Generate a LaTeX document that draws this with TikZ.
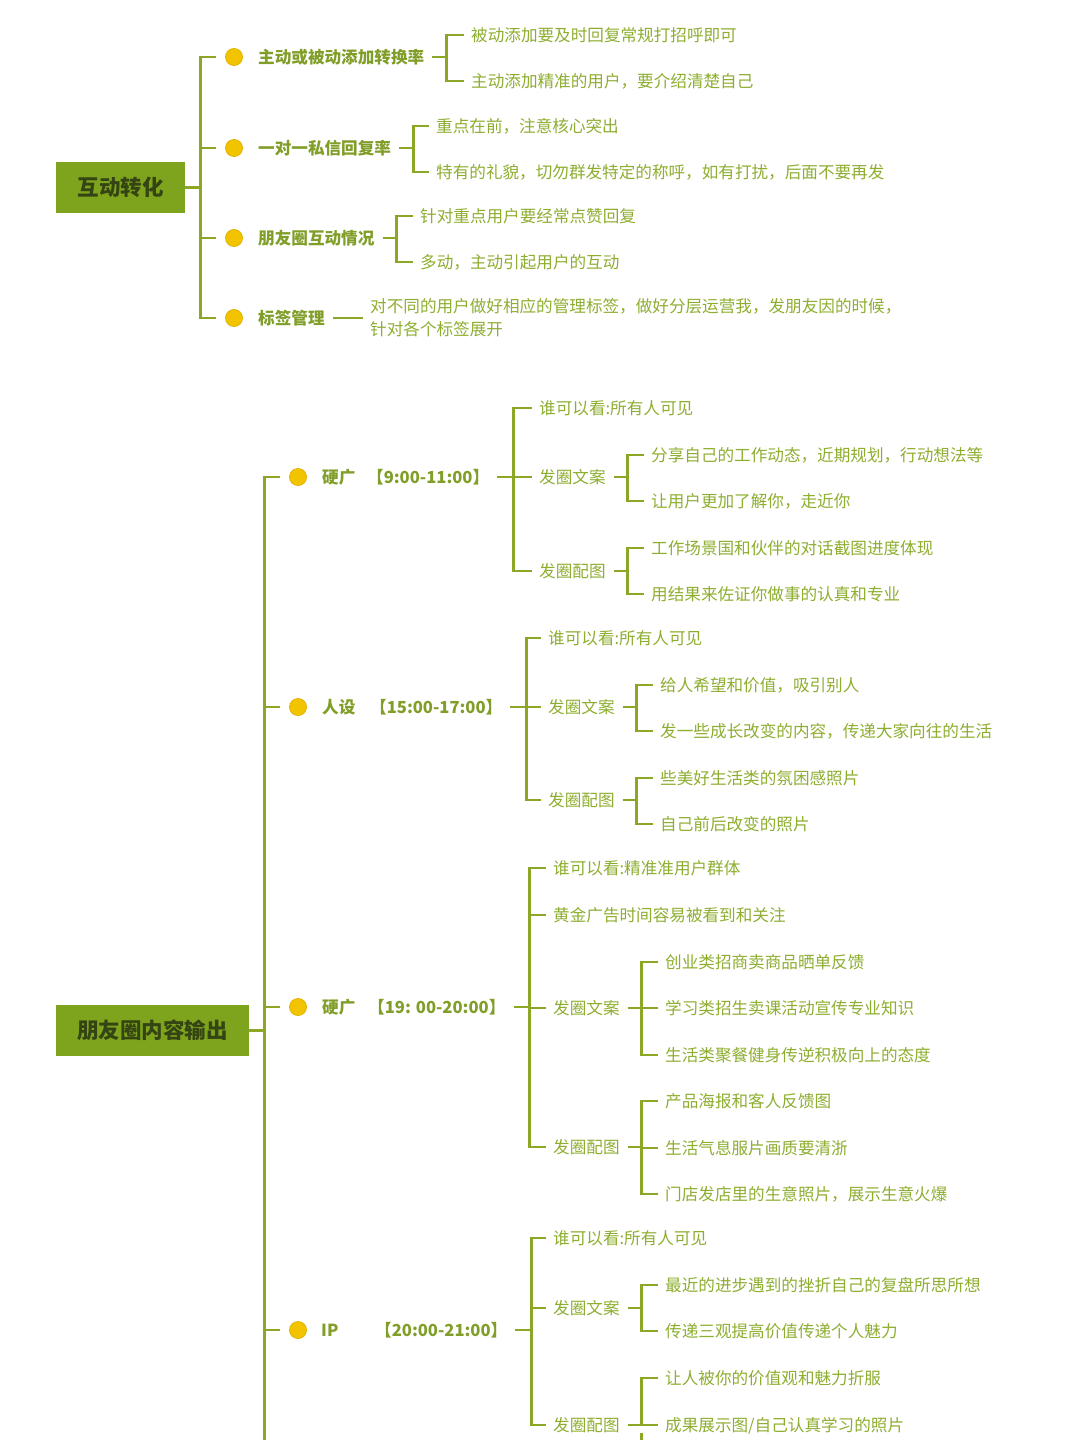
\documentclass[tikz,border=0pt]{standalone}
\usepackage{fontspec}
\setmainfont{Noto Sans CJK SC}
\usepackage{xcolor}
\usepackage{tikz}
\definecolor{linegreen}{RGB}{140,166,38}
\definecolor{boxgreen}{RGB}{126,164,30}
\definecolor{boxtext}{RGB}{52,68,18}
\definecolor{labelgreen}{RGB}{128,158,40}
\definecolor{leafgreen}{RGB}{142,174,48}
\definecolor{dotyellow}{RGB}{242,196,0}
\definecolor{dotedge}{RGB}{226,180,0}

\tikzset{
  topicbox/.style={fill=boxgreen, text=boxtext, inner sep=0pt, minimum height=51pt,
    font=\fontsize{21.5}{24}\selectfont\bfseries},
  bullet/.style={circle, fill=dotyellow, draw=dotedge, line width=0.8pt, minimum size=17pt, inner sep=0pt},
  branch/.style={anchor=west, inner sep=0pt, text=labelgreen, text height=14.6pt, text depth=2pt,
    font=\fontsize{16.6}{20}\selectfont\bfseries},
  leaf/.style={anchor=west, inner sep=0pt, text=leafgreen, text height=14.6pt, text depth=2pt,
    font=\fontsize{16.6}{20}\selectfont},
  link/.style={draw=linegreen, line width=2.8pt, shorten <=8pt, shorten >=7pt},
  trunk/.style={draw=linegreen, line width=2.8pt, shorten >=9pt},
}

\begin{document}
\begin{tikzpicture}[x=1pt,y=-1pt]
  \useasboundingbox (0,0) rectangle (1080,1440);
  \clip (0,0) rectangle (1080,1440);
  \fill[white] (0,0) rectangle (1080,1440);

  % ---- 互动转化 ----
  \node[topicbox, minimum width=129pt] (interact) at (120.5,187.5) {互动转化};

  \node[bullet] (d11) at (234,57) {};
  \node[bullet] (d12) at (234,148) {};
  \node[bullet] (d13) at (234,238) {};
  \node[bullet] (d14) at (234,318) {};

  \node[branch] (a1) at (258,57) {主动或被动添加转换率};
  \node[branch] (a2) at (258,148) {一对一私信回复率};
  \node[branch] (a3) at (258,238) {朋友圈互动情况};
  \node[branch] (a4) at (258,318) {标签管理};

  \node[leaf] (a11) at (471,35) {被动添加要及时回复常规打招呼即可};
  \node[leaf] (a12) at (471,81) {主动添加精准的用户，要介绍清楚自己};
  \node[leaf] (a21) at (436,126) {重点在前，注意核心突出};
  \node[leaf] (a22) at (436,172) {特有的礼貌，切勿群发特定的称呼，如有打扰，后面不要再发};
  \node[leaf] (a31) at (420,216) {针对重点用户要经常点赞回复};
  \node[leaf] (a32) at (420,262) {多动，主动引起用户的互动};
  \node[leaf, text height=, text depth=, align=left, font=\fontsize{16.6}{23}\selectfont] (a41) at (370,318)
    {对不同的用户做好相应的管理标签，做好分层运营我，发朋友因的时候，\\针对各个标签展开};

  \draw[trunk] (interact.east) -- ++(15,0) |- (d11.west);
  \draw[trunk] (interact.east) -- ++(15,0) |- (d12.west);
  \draw[trunk] (interact.east) -- ++(15,0) |- (d13.west);
  \draw[trunk] (interact.east) -- ++(15,0) |- (d14.west);

  \draw[link] (a1.east) -- ++(22,0) |- (a11.west);
  \draw[link] (a1.east) -- ++(22,0) |- (a12.west);
  \draw[link] (a2.east) -- ++(22,0) |- (a21.west);
  \draw[link] (a2.east) -- ++(22,0) |- (a22.west);
  \draw[link] (a3.east) -- ++(22,0) |- (a31.west);
  \draw[link] (a3.east) -- ++(22,0) |- (a32.west);
  \draw[link] (a4.east) -- (a41.west);

  % ---- 朋友圈内容输出 ----
  \node[topicbox, minimum width=193pt] (moments) at (152.5,1030.5) {朋友圈内容输出};

  \node[bullet] (d21) at (298,477) {};
  \node[bullet] (d22) at (298,707) {};
  \node[bullet] (d23) at (298,1007) {};
  \node[bullet] (d24) at (298,1330) {};

  \node[branch] (n1) at (322,477) {硬广};
  \node[branch] (n2) at (322,707) {人设};
  \node[branch] (n3) at (322,1007) {硬广};
  \node[branch] (n4) at (321,1330) {IP};
  \node[branch] (t1) at (367,477) {【9:00-11:00】};
  \node[branch] (t2) at (370,707) {【15:00-17:00】};
  \node[branch] (t3) at (368,1007) {【19: 00-20:00】};
  \node[branch] (t4) at (375,1330) {【20:00-21:00】};

  \draw[trunk] (moments.east) -- ++(15,0) |- (d21.west);
  \draw[trunk] (moments.east) -- ++(15,0) |- (d22.west);
  \draw[trunk] (moments.east) -- ++(15,0) |- (d23.west);
  \draw[trunk] (moments.east) -- ++(15,0) |- (d24.west);
  \draw[trunk] (moments.east) ++(15,0) -- ++(0,440);

  % 9:00-11:00
  \node[leaf] (p11) at (539,408) {谁可以看:所有人可见};
  \node[leaf] (p12) at (539,477) {发圈文案};
  \node[leaf] (p13) at (539,571) {发圈配图};
  \node[leaf] (p121) at (651,455) {分享自己的工作动态，近期规划，行动想法等};
  \node[leaf] (p122) at (651,501) {让用户更加了解你，走近你};
  \node[leaf] (p131) at (651,548) {工作场景国和伙伴的对话截图进度体现};
  \node[leaf] (p132) at (651,594) {用结果来佐证你做事的认真和专业};

  \draw[link] (t1.east) -- ++(24,0) |- (p11.west);
  \draw[link] (t1.east) -- ++(24,0) |- (p12.west);
  \draw[link] (t1.east) -- ++(24,0) |- (p13.west);
  \draw[link] (p12.east) -- ++(22,0) |- (p121.west);
  \draw[link] (p12.east) -- ++(22,0) |- (p122.west);
  \draw[link] (p13.east) -- ++(22,0) |- (p131.west);
  \draw[link] (p13.east) -- ++(22,0) |- (p132.west);

  % 15:00-17:00
  \node[leaf] (q21) at (548,638) {谁可以看:所有人可见};
  \node[leaf] (q22) at (548,707) {发圈文案};
  \node[leaf] (q23) at (548,800) {发圈配图};
  \node[leaf] (q221) at (660,685) {给人希望和价值，吸引别人};
  \node[leaf] (q222) at (660,731) {发一些成长改变的内容，传递大家向往的生活};
  \node[leaf] (q231) at (660,778) {些美好生活类的氛困感照片};
  \node[leaf] (q232) at (660,824) {自己前后改变的照片};

  \draw[link] (t2.east) -- ++(24,0) |- (q21.west);
  \draw[link] (t2.east) -- ++(24,0) |- (q22.west);
  \draw[link] (t2.east) -- ++(24,0) |- (q23.west);
  \draw[link] (q22.east) -- ++(22,0) |- (q221.west);
  \draw[link] (q22.east) -- ++(22,0) |- (q222.west);
  \draw[link] (q23.east) -- ++(22,0) |- (q231.west);
  \draw[link] (q23.east) -- ++(22,0) |- (q232.west);

  % 19:00-20:00
  \node[leaf] (r31) at (553,868) {谁可以看:精准准用户群体};
  \node[leaf] (r32) at (553,915) {黄金广告时间容易被看到和关注};
  \node[leaf] (r33) at (553,1008) {发圈文案};
  \node[leaf] (r34) at (553,1147) {发圈配图};
  \node[leaf] (r331) at (665,962) {创业类招商卖商品晒单反馈};
  \node[leaf] (r332) at (665,1008) {学习类招生卖课活动宣传专业知识};
  \node[leaf] (r333) at (665,1055) {生活类聚餐健身传逆积极向上的态度};
  \node[leaf] (r341) at (665,1101) {产品海报和客人反馈图};
  \node[leaf] (r342) at (665,1148) {生活气息服片画质要清浙};
  \node[leaf] (r343) at (665,1194) {门店发店里的生意照片，展示生意火爆};

  \draw[link] (t3.east) -- ++(24,0) |- (r31.west);
  \draw[link] (t3.east) -- ++(24,0) |- (r32.west);
  \draw[link] (t3.east) -- ++(24,0) |- (r33.west);
  \draw[link] (t3.east) -- ++(24,0) |- (r34.west);
  \draw[link] (r33.east) -- ++(22,0) |- (r331.west);
  \draw[link] (r33.east) -- ++(22,0) |- (r332.west);
  \draw[link] (r33.east) -- ++(22,0) |- (r333.west);
  \draw[link] (r34.east) -- ++(22,0) |- (r341.west);
  \draw[link] (r34.east) -- ++(22,0) |- (r342.west);
  \draw[link] (r34.east) -- ++(22,0) |- (r343.west);

  % 20:00-21:00
  \node[leaf] (s41) at (553,1238) {谁可以看:所有人可见};
  \node[leaf] (s42) at (553,1308) {发圈文案};
  \node[leaf] (s43) at (553,1425) {发圈配图};
  \node[leaf] (s421) at (665,1285) {最近的进步遇到的挫折自己的复盘所思所想};
  \node[leaf] (s422) at (665,1331) {传递三观提高价值传递个人魅力};
  \node[leaf] (s431) at (665,1378) {让人被你的价值观和魅力折服};
  \node[leaf] (s432) at (665,1425) {成果展示图/自己认真学习的照片};

  \draw[link] (t4.east) -- ++(24,0) |- (s41.west);
  \draw[link] (t4.east) -- ++(24,0) |- (s42.west);
  \draw[link] (t4.east) -- ++(24,0) |- (s43.west);
  \draw[link] (s42.east) -- ++(22,0) |- (s421.west);
  \draw[link] (s42.east) -- ++(22,0) |- (s422.west);
  \draw[link] (s43.east) -- ++(22,0) |- (s431.west);
  \draw[link] (s43.east) -- ++(22,0) |- (s432.west);
  \draw[link] (s43.east) ++(22,0) -- ++(0,40);
\end{tikzpicture}
\end{document}
